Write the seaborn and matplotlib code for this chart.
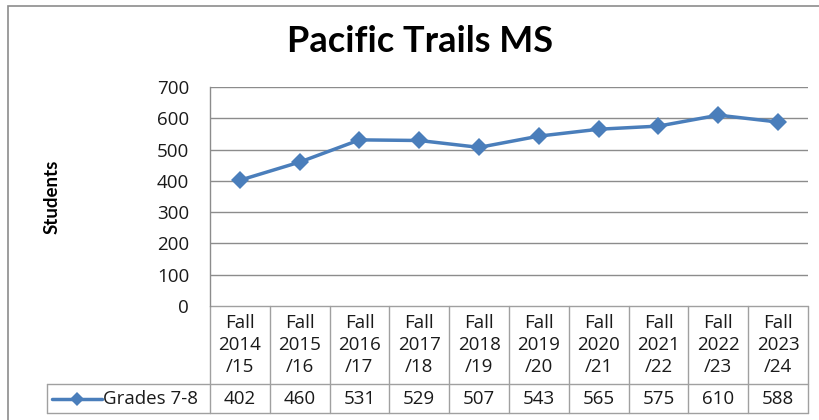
import numpy as np
import pandas as pd
import seaborn as sns
import matplotlib.pyplot as plt
from matplotlib.lines import Line2D
from matplotlib.patches import Rectangle

# enrollment data
years = ['Fall\n2014\n/15', 'Fall\n2015\n/16', 'Fall\n2016\n/17', 'Fall\n2017\n/18', 'Fall\n2018\n/19',
         'Fall\n2019\n/20', 'Fall\n2020\n/21', 'Fall\n2021\n/22', 'Fall\n2022\n/23', 'Fall\n2023\n/24']
students = [402, 460, 531, 529, 507, 543, 565, 575, 610, 588]
series_name = 'Grades 7-8'
y_ticks = [0, 100, 200, 300, 400, 500, 600, 700]

blue = '#4a7ebb'
grid_col = '#8c8c8c'
txt = '#1a1a1a'
body_font = ['Open Sans', 'DejaVu Sans']
fs = 13.5

sns.set_style('white')
plt.rcParams['font.family'] = ['Lato', 'DejaVu Sans']

df = pd.DataFrame({'pos': np.arange(len(years)), 'students': students})

fig = plt.figure(figsize=(8.2, 4.2), dpi=100)
W, H = 820, 420
ax = fig.add_axes([210 / W, 1 - 306 / H, 598 / W, 219 / H])

sns.lineplot(data=df, x='pos', y='students', ax=ax, color=blue, linewidth=2.5,
             marker='D', markersize=9, markeredgewidth=0, zorder=3)

ax.set_xlim(-0.5, len(years) - 0.5)
ax.set_ylim(0, 700)
ax.set_yticks(y_ticks)
ax.set_yticklabels([str(t) for t in y_ticks], fontsize=fs, color=txt, family=body_font)
ax.tick_params(axis='y', length=0, pad=15)
ax.set_xticks([])
ax.set_xlabel('')
ax.set_ylabel('')
for t in y_ticks[1:]:
    ax.axhline(t, color=grid_col, linewidth=1, zorder=1)
for s in ['top', 'right', 'bottom']:
    ax.spines[s].set_visible(False)
ax.spines['left'].set_color(grid_col)
ax.spines['left'].set_linewidth(1)

# data table under the plot area (axes coords in y, data coords in x)
n = len(years)
header_bot = -78 / 219
row_bot = -107 / 219
tr = ax.get_xaxis_transform()
lc = '#a0a0a0'
for i in range(n + 1):
    x = -0.5 + i
    ax.plot([x, x], [0, row_bot], transform=tr, color=lc, lw=1, clip_on=False)
for yy in [0, header_bot, row_bot]:
    ax.plot([-0.5, n - 0.5], [yy, yy], transform=tr, color=lc, lw=1, clip_on=False)
for i, (lab, v) in enumerate(zip(years, students)):
    ax.text(i, header_bot / 2, lab, transform=tr, ha='center', va='center',
            fontsize=fs, color=txt, linespacing=1.3, family=body_font, clip_on=False)
    ax.text(i, (header_bot + row_bot) / 2, str(v), transform=tr, ha='center', va='center',
            fontsize=fs, color=txt, family=body_font, clip_on=False)

# legend cell at the left of the data row
x0 = (47 - 210) / 598
atr = ax.transAxes
ax.plot([x0, 0], [header_bot, header_bot], transform=atr, color=lc, lw=1, clip_on=False)
ax.plot([x0, 0], [row_bot, row_bot], transform=atr, color=lc, lw=1, clip_on=False)
ax.plot([x0, x0], [header_bot, row_bot], transform=atr, color=lc, lw=1, clip_on=False)
ym = (header_bot + row_bot) / 2
ax.add_line(Line2D([x0 + 0.008, x0 + 0.092], [ym, ym], transform=atr, color=blue, lw=2.5, clip_on=False))
ax.add_line(Line2D([x0 + 0.05], [ym], transform=atr, color=blue, marker='D', markersize=7,
                   markeredgewidth=0, clip_on=False))
ax.text(x0 + 0.094, ym, series_name, transform=atr, ha='left', va='center', fontsize=fs,
        color=txt, family=body_font, clip_on=False)

fig.text(420 / W, 1 - 42 / H, 'Pacific Trails MS', ha='center', va='center',
         fontsize=26, fontweight='bold', color='black')
fig.text(52 / W, 1 - 197 / H, 'Students', ha='center', va='center', rotation=90,
         fontsize=13.5, fontweight='bold', color='black')

# outer chart border
fig.patches.append(Rectangle((8 / W, -0.05), 1.2, 1 - 6 / H + 0.05, transform=fig.transFigure,
                             fill=False, edgecolor='#8c8c8c', lw=1.2))

fig.savefig('out.png', dpi=100)
